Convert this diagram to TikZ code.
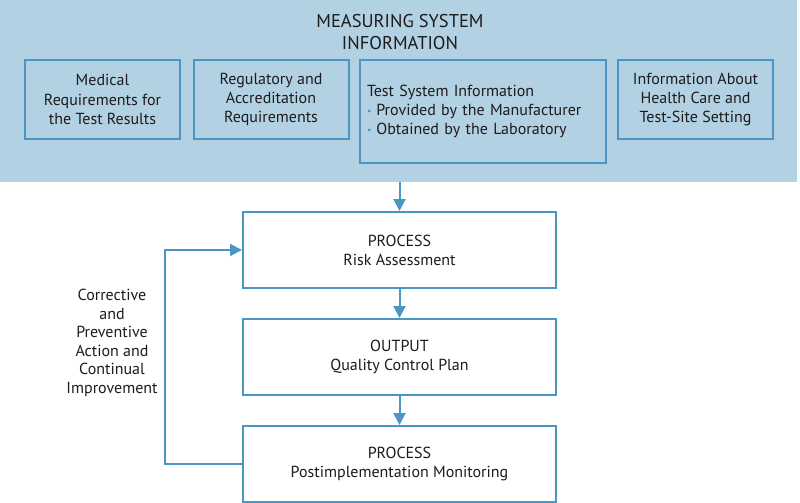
\documentclass[tikz,border=0pt]{standalone}
\usepackage{fontspec}
\setmainfont{PT Sans}
\usetikzlibrary{arrows.meta}
\definecolor{bandblue}{RGB}{178,209,227}
\definecolor{lineblue}{RGB}{74,151,196}
\definecolor{inkgray}{RGB}{30,27,28}
\tikzset{
  infobox/.style={draw=lineblue,line width=2pt,minimum width=155pt,minimum height=79pt,align=center,inner sep=0pt},
  stepbox/.style={draw=lineblue,line width=2pt,fill=white,minimum width=313pt,minimum height=76pt,align=center,inner sep=0pt},
  flow/.style={->,draw=lineblue,line width=2pt},
}
\newcommand{\blt}{{\color{lineblue}\raisebox{1.5pt}{\scalebox{0.6}{\textbullet}}}\hspace{5pt}}

\begin{document}
\begin{tikzpicture}[x=1pt,y=-1pt,>={Triangle[length=12pt,width=12pt]},font=\fontsize{16}{19.2}\selectfont,text=inkgray]
	\useasboundingbox (0,0) rectangle (800,503);

	% measuring system band
	\node[fill=bandblue,minimum width=797pt,minimum height=182pt,inner sep=0pt] (band) at (398.5,91) {};
	\node[align=center,font=\fontsize{18.5}{22.5}\selectfont] (title) at (400,32) {MEASURING SYSTEM\\INFORMATION};

	\node[infobox] (medical) at (102.5,99.5) {Medical\\Requirements for\\the Test Results};
	\node[infobox] (regul) at (271,99.5) {Regulatory and\\Accreditation\\Requirements};
	\node[infobox,line width=2.5pt,minimum width=246pt,minimum height=103pt,text width=232pt,align=left,inner sep=7pt] (testsys) at (483,111.5)
		{Test System Information\\\blt Provided by the Manufacturer\\\blt Obtained by the Laboratory};
	\node[infobox] (health) at (695.5,99.5) {Information About\\Health Care and\\Test-Site Setting};

	% process chain
	\node[stepbox] (risk) at (399.5,250) {PROCESS\\Risk Assessment};
	\node[stepbox] (qcplan) at (399.5,357) {OUTPUT\\Quality Control Plan};
	\node[stepbox] (monitor) at (399.5,464) {PROCESS\\Postimplementation Monitoring};

	\draw[flow] (band.south -| risk.north) -- (risk.north);
	\draw[flow] (risk) -- (qcplan);
	\draw[flow] (qcplan) -- (monitor);

	% feedback loop
	\draw[flow] (monitor.west) -- ++(-77,0) |- (risk.west);
	\node[align=center,font=\fontsize{16}{18.5}\selectfont] (corrective) at (112,343) {Corrective\\and\\Preventive\\Action and\\Continual\\Improvement};
\end{tikzpicture}
\end{document}
